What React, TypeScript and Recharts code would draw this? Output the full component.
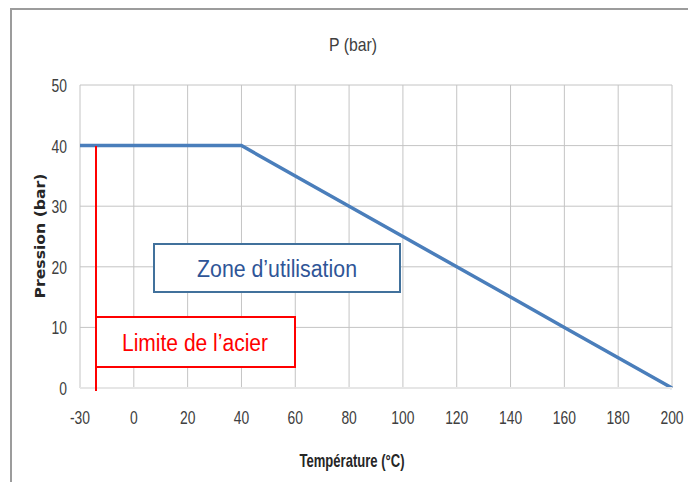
import React from "react";
import { LineChart, Line, XAxis, YAxis, CartesianGrid } from "recharts";

const temperatures = ["-30", "0", "20", "40", "60", "80", "100", "120", "140", "160", "180", "200"];
const pressures = [40, 40, 40, 40, 35, 30, 25, 20, 15, 10, 5, 0];
const yTicks = [0, 10, 20, 30, 40, 50];

const data = temperatures.map((t, i) => ({ t, p: pressures[i] }));

const SANS = "'Liberation Sans', Arial, sans-serif";

const XTick = (props: any) => {
  const { x, y, payload } = props;
  return (
    <g transform={`translate(${x},${y + 14.5}) scale(0.73,1)`}>
      <text x={0} y={0} textAnchor="middle" fontSize={19} fill="#404040" fontFamily={SANS}>
        {payload.value}
      </text>
    </g>
  );
};

const YTick = (props: any) => {
  const { x, y, payload } = props;
  return (
    <g transform={`translate(${x},${y + 7}) scale(0.73,1)`}>
      <text x={0} y={0} textAnchor="end" fontSize={19} fill="#404040" fontFamily={SANS}>
        {payload.value}
      </text>
    </g>
  );
};

export default function App() {
  return (
    <div style={{ position: "relative", width: 688, height: 482, overflow: "hidden", background: "#fff" }}>
      <style>{`body{margin:0}`}</style>
      <div
        style={{
          position: "absolute",
          left: 10,
          top: 8,
          width: 720,
          height: 520,
          border: "2px solid #9c9c9c",
          boxSizing: "border-box",
        }}
      />
      <div style={{ position: "absolute", left: 0, top: 0 }}>
        <LineChart width={688} height={482} data={data} margin={{ top: 85, right: 16, bottom: 14, left: 0 }}>
          <CartesianGrid stroke="#c4c4c4" strokeWidth={1} />
          <XAxis
            dataKey="t"
            type="category"
            padding={{ left: 0, right: 0 }}
            height={80}
            axisLine={{ stroke: "#e6e6e6", strokeWidth: 2 }}
            tickLine={false}
            tickMargin={15}
            interval={0}
            tick={<XTick />}
          />
          <YAxis
            type="number"
            domain={[0, 50]}
            ticks={yTicks}
            width={80}
            axisLine={false}
            tickLine={false}
            tickMargin={7}
            tick={<YTick />}
          />
          <Line
            type="linear"
            dataKey="p"
            stroke="#4a7ebb"
            strokeWidth={3.5}
            dot={false}
            isAnimationActive={false}
          />
        </LineChart>
      </div>
      <svg width={688} height={482} style={{ position: "absolute", left: 0, top: 0, pointerEvents: "none" }}>
        <text x={353} y={51} textAnchor="middle" fontSize={19} fill="#404040" fontFamily={SANS} textLength={48} lengthAdjust="spacingAndGlyphs">
          P (bar)
        </text>
        <text x={352} y={467} textAnchor="middle" fontSize={18.5} fontWeight="bold" fill="#262626" fontFamily={SANS} textLength={105} lengthAdjust="spacingAndGlyphs">
          Température (°C)
        </text>
        <text
          x={40}
          y={236}
          transform="rotate(-90 40 236)"
          textAnchor="middle"
          dominantBaseline="central"
          fontSize={13.5}
          fontWeight="bold"
          fill="#262626"
          fontFamily="'DejaVu Sans', Verdana, sans-serif"
          textLength={125}
          lengthAdjust="spacingAndGlyphs"
        >
          Pression (bar)
        </text>
        <rect x={154} y={244} width={246} height={48} fill="#fff" stroke="#41719c" strokeWidth={2} />
        <text x={277} y={276.5} textAnchor="middle" fontSize={23} fill="#2f5597" fontFamily={SANS} textLength={160} lengthAdjust="spacingAndGlyphs">
          Zone d’utilisation
        </text>
        <line x1={96} y1={146} x2={96} y2={391} stroke="#ff0000" strokeWidth={2} />
        <rect x={96} y={317} width={199} height={50} fill="#fff" stroke="#ff0000" strokeWidth={2} />
        <text x={195} y={350.5} textAnchor="middle" fontSize={23} fill="#ff0000" fontFamily={SANS} textLength={146} lengthAdjust="spacingAndGlyphs">
          Limite de l’acier
        </text>
      </svg>
    </div>
  );
}
